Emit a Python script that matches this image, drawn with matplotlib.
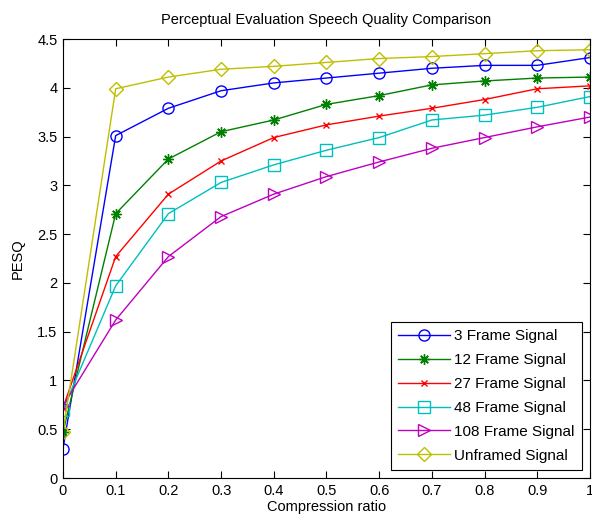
import matplotlib
matplotlib.use("Agg")
import matplotlib.pyplot as plt
import numpy as np

plt.rcParams['font.family'] = ['Liberation Sans', 'DejaVu Sans']

x = [0, 0.1, 0.2, 0.3, 0.4, 0.5, 0.6, 0.7, 0.8, 0.9, 1.0]
frame3 = [0.30, 3.51, 3.79, 3.97, 4.05, 4.10, 4.15, 4.20, 4.23, 4.23, 4.31]
frame12 = [0.47, 2.71, 3.27, 3.55, 3.67, 3.83, 3.92, 4.03, 4.07, 4.10, 4.11]
frame27 = [0.72, 2.27, 2.91, 3.25, 3.49, 3.62, 3.71, 3.79, 3.88, 3.99, 4.02]
frame48 = [0.70, 1.97, 2.71, 3.03, 3.21, 3.36, 3.49, 3.67, 3.72, 3.80, 3.91]
frame108 = [0.74, 1.62, 2.27, 2.68, 2.91, 3.09, 3.24, 3.38, 3.49, 3.60, 3.70]
unframed = [0.47, 3.99, 4.11, 4.19, 4.22, 4.26, 4.30, 4.32, 4.35, 4.38, 4.39]

labels = ['3 Frame Signal', '12 Frame Signal', '27 Frame Signal',
          '48 Frame Signal', '108 Frame Signal', 'Unframed Signal']

fig = plt.figure(figsize=(5.92, 5.23), dpi=100)
ax = fig.add_axes([0.1064, 0.086, 0.8902, 0.8394])

styles = [
    (frame3, (0, 0, 1), 'o', 8),
    (frame12, (0, 0.5, 0), (8, 2, 0), 7.5),
    (frame27, (1, 0, 0), 'x', 5),
    (frame48, (0, 0.75, 0.75), 's', 8),
    (frame108, (0.75, 0, 0.75), '>', 9),
    (unframed, (0.75, 0.75, 0), 'D', 7),
]
for (ys, c, m, ms), lab in zip(styles, labels):
    ax.plot(x, ys, color=c, marker=m, markersize=ms, markerfacecolor='none',
            markeredgecolor=c, linewidth=1, markeredgewidth=1, label=lab)

ax.set_xlim(0, 1)
ax.set_ylim(0, 4.5)
ax.set_xticks(np.arange(0, 1.01, 0.1))
ax.set_xticklabels(['0', '0.1', '0.2', '0.3', '0.4', '0.5', '0.6', '0.7', '0.8', '0.9', '1'])
ax.set_yticks(np.arange(0, 4.51, 0.5))
ax.set_yticklabels(['0', '0.5', '1', '1.5', '2', '2.5', '3', '3.5', '4', '4.5'])
ax.tick_params(direction='in', top=True, right=True, labelsize=10.5, length=5, width=0.8, pad=4)
for s in ax.spines.values():
    s.set_linewidth(0.8)

ax.set_title('Perceptual Evaluation Speech Quality Comparison', fontsize=10.5, pad=11)
ax.set_xlabel('Compression ratio', fontsize=10.5, labelpad=2)
ax.set_ylabel('PESQ', fontsize=10.5, labelpad=9)

leg = ax.legend(loc='lower right', fontsize=11, frameon=True, fancybox=False,
                edgecolor='black', framealpha=1, borderaxespad=0.55,
                handlelength=3.4, labelspacing=0.65, borderpad=0.45, handletextpad=0.3)
leg.get_frame().set_linewidth(0.8)

fig.savefig('out.png', dpi=100)
